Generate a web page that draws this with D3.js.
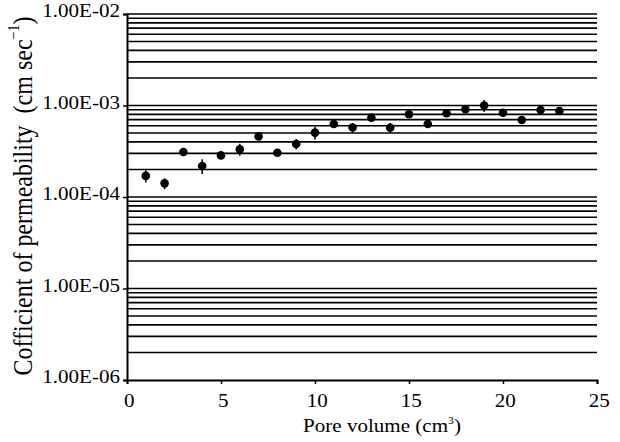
<!DOCTYPE html>
<html>
<head>
<meta charset="utf-8">
<script src="https://cdn.jsdelivr.net/npm/d3@7/dist/d3.min.js"></script>
<style>
  body { margin: 0; background: #fff; }
  svg text { font-family: "Liberation Serif", "Times New Roman", serif; fill: #000; }
</style>
</head>
<body>
<div id="chart"></div>
<script>
// pore volume passed (cm3)
const poreVolume = [1, 2, 3, 4, 5, 6, 7, 8, 9, 10, 11, 12, 13, 14, 15, 16, 17, 18, 19, 20, 21, 22, 23];
// coefficient of permeability (cm/sec)
const permeability = [1.70e-4, 1.41e-4, 3.10e-4, 2.18e-4, 2.85e-4, 3.32e-4, 4.60e-4, 3.05e-4, 3.80e-4, 5.05e-4,
  6.28e-4, 5.75e-4, 7.36e-4, 5.72e-4, 8.02e-4, 6.28e-4, 8.22e-4, 9.10e-4, 1.00e-3, 8.33e-4, 6.95e-4, 8.93e-4, 8.71e-4];
// error bar half-lengths
const errorBars = [2.6e-5, 1.9e-5, 1.0e-5, 4.0e-5, 1.0e-5, 5.0e-5, 1.5e-5, 1.5e-5, 5.0e-5, 8.0e-5,
  2.0e-5, 7.0e-5, 2.0e-5, 7.0e-5, 6.0e-5, 6.0e-5, 4.0e-5, 4.0e-5, 1.5e-4, 3.0e-5, 5.0e-5, 6.0e-5, 4.0e-5];

const xTicks = [0, 5, 10, 15, 20, 25];
const yTicks = [1e-6, 1e-5, 1e-4, 1e-3, 1e-2];
const yTickLabels = ["1.00E-06", "1.00E-05", "1.00E-04", "1.00E-03", "1.00E-02"];

const width = 620, height = 442;
const margin = {top: 14, right: 23, bottom: 62, left: 127};
const stretch = 1.17; // the original figure's text is widened horizontally

const svg = d3.select("#chart").append("svg")
  .attr("width", width)
  .attr("height", height);

const x = d3.scaleLinear().domain([0, 25]).range([margin.left, width - margin.right]);
const y = d3.scaleLog().domain([1e-6, 1e-2]).range([height - margin.bottom, margin.top]);

// horizontal gridlines at every log tick
svg.append("g")
  .selectAll("line")
  .data(y.ticks().filter(d => d > 1e-6))
  .enter()
  .append("line")
  .attr("x1", x(0))
  .attr("x2", x(25))
  .attr("y1", d => y(d))
  .attr("y2", d => y(d))
  .style("stroke", "#000")
  .style("stroke-width", 1.6);

// y axis
const yAxis = svg.append("g")
  .attr("transform", "translate(" + x(0) + ",0)")
  .call(d3.axisLeft(y).tickValues(yTicks).tickSize(4).tickPadding(3)
    .tickFormat((d, i) => yTickLabels[i]));
yAxis.select(".domain").style("stroke", "#000").style("stroke-width", 2);
yAxis.selectAll(".tick line").style("stroke", "#000").style("stroke-width", 1.5);
yAxis.selectAll(".tick text")
  .attr("x", -7 / stretch)
  .attr("dy", "0.16em")
  .attr("transform", "scale(" + stretch + ",1)")
  .style("font-family", "Liberation Serif")
  .style("font-size", "18px");

// x axis
const xAxis = svg.append("g")
  .attr("transform", "translate(0," + y(1e-6) + ")")
  .call(d3.axisBottom(x).tickValues(xTicks).tickSize(4).tickPadding(10.5));
xAxis.select(".domain").style("stroke", "#000").style("stroke-width", 2);
xAxis.selectAll(".tick line").style("stroke", "#000").style("stroke-width", 1.5);
xAxis.selectAll(".tick text")
  .attr("x", 1.5)
  .attr("transform", "scale(" + stretch + ",1)")
  .style("font-family", "Liberation Serif")
  .style("font-size", "18px");

// error bars
svg.append("g")
  .selectAll("line")
  .data(poreVolume)
  .enter()
  .append("line")
  .attr("x1", d => x(d))
  .attr("x2", d => x(d))
  .attr("y1", (d, i) => y(permeability[i] - errorBars[i]))
  .attr("y2", (d, i) => y(permeability[i] + errorBars[i]))
  .style("stroke", "#000")
  .style("stroke-width", 1.5);

// points
svg.append("g")
  .selectAll("circle")
  .data(poreVolume)
  .enter()
  .append("circle")
  .attr("cx", d => x(d))
  .attr("cy", (d, i) => y(permeability[i]))
  .attr("r", 4.3)
  .style("fill", "#000");

// axis titles
const xTitle = svg.append("text")
  .attr("transform", "translate(382,432) scale(" + stretch + ",1)")
  .attr("text-anchor", "middle")
  .style("font-size", "18px")
  .text("Pore volume (cm");
xTitle.append("tspan").attr("dy", -8).style("font-size", "10px").text("3");
xTitle.append("tspan").attr("dy", 8).text(")");

const yTitle = svg.append("text")
  .attr("transform", "translate(32,196) scale(" + stretch + ",1) rotate(-90)")
  .attr("text-anchor", "middle")
  .style("font-size", "24px")
  .text("Cofficient of permeability\u00a0\u00a0(cm sec");
yTitle.append("tspan").attr("dy", -11).style("font-size", "14px").text("\u22121");
yTitle.append("tspan").attr("dy", 11).text(")");
</script>
</body>
</html>
